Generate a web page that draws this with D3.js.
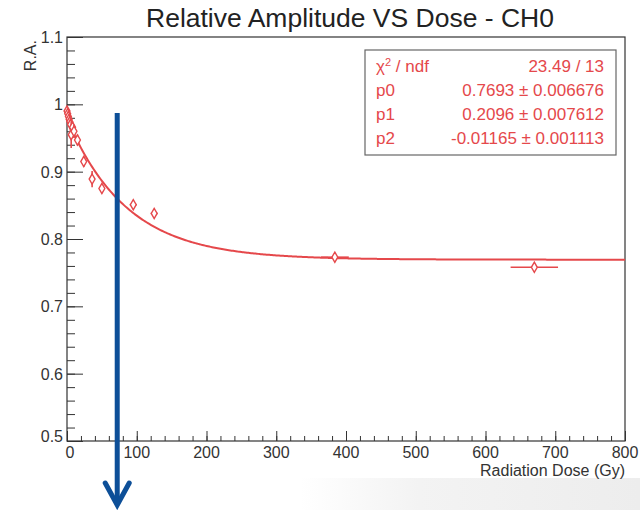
<!DOCTYPE html>
<html lang="en">
<head>
<meta charset="utf-8">
<title>Relative Amplitude VS Dose - CH0</title>
<script src="https://cdn.jsdelivr.net/npm/d3@7"></script>
<style>
  html, body { margin: 0; padding: 0; background: #fff; }
  svg { display: block; font-family: "Liberation Sans", Arial, sans-serif; }
</style>
</head>
<body>
<div id="chart"></div>
<script>
// measured points (dose in Gy, relative amplitude)
var dose    = [0, 1, 2, 3, 4, 5, 6, 8, 10, 15, 24, 36, 50, 95, 125, 384, 670];
var doseErr = [0, 0, 0, 0, 0, 0, 0, 0, 0, 2, 2, 2, 3, 5, 5, 20, 34];
var ra      = [0.99, 0.986, 0.982, 0.978, 0.974, 0.97, 0.955, 0.966, 0.96, 0.947, 0.915, 0.889, 0.875, 0.851, 0.838, 0.773, 0.758];
var raErr   = [0.006, 0.006, 0.008, 0.008, 0.01, 0.01, 0.02, 0.008, 0.01, 0.008, 0.008, 0.012, 0.007, 0.006, 0.005, 0.004, 0.004];

// fit p0 + p1*exp(p2*x)
var fitNames  = ["p0", "p1", "p2"];
var fitValues = [0.7693, 0.2096, -0.01165];
var fitErrors = [0.006676, 0.007612, 0.001113];
var chi2 = "23.49 / 13";

var xTicks = [0, 100, 200, 300, 400, 500, 600, 700, 800];
var yTicks = [0.5, 0.6, 0.7, 0.8, 0.9, 1, 1.1];

// arrow annotation (dose, top R.A.)
var arrowDose = 72, arrowTop = 0.987;

var W = 640, H = 510;
var margin = {top: 37, right: 15, bottom: 69, left: 67};
var width = W - margin.left - margin.right,
    height = H - margin.top - margin.bottom;

var red = "#e5484b", frame = "#333";

var svg = d3.select("#chart").append("svg")
    .attr("width", W).attr("height", H);

// faint grey band bottom right (slide background)
var grad = svg.append("defs").append("linearGradient")
    .attr("id", "fade").attr("x1", "0").attr("x2", "1");
grad.append("stop").attr("offset", "0").attr("stop-color", "#fff");
grad.append("stop").attr("offset", "0.35").attr("stop-color", "#f3f3f3");
grad.append("stop").attr("offset", "1").attr("stop-color", "#ededed");
svg.append("rect").attr("x", 300).attr("y", 478).attr("width", 340).attr("height", 32)
    .attr("fill", "url(#fade)");

svg.append("text")
    .attr("x", 350).attr("y", 27)
    .attr("text-anchor", "middle")
    .attr("font-size", 25).attr("fill", "#222")
    .attr("textLength", 408).attr("lengthAdjust", "spacingAndGlyphs")
    .text("Relative Amplitude VS Dose - CH0");

var g = svg.append("g")
    .attr("transform", "translate(" + margin.left + "," + margin.top + ")");

var x = d3.scaleLinear().domain([0, 800]).range([0, width]);
var y = d3.scaleLinear().domain([0.5, 1.1]).range([height, 0]);

// frame
g.append("rect").attr("width", width).attr("height", height)
    .attr("fill", "none").attr("stroke", frame).attr("stroke-width", 1.2);

// x ticks (inside, pointing up)
var xAxis = g.append("g").attr("transform", "translate(0," + height + ")");
xAxis.call(d3.axisTop(x).tickValues(d3.range(0, 801, 20)).tickSize(5).tickFormat(""))
  .call(function(s) { s.select(".domain").remove(); s.selectAll("line").attr("stroke", frame); });
xAxis.append("g").call(d3.axisTop(x).tickValues(xTicks).tickSize(10).tickFormat(""))
  .call(function(s) { s.select(".domain").remove(); s.selectAll("line").attr("stroke", frame); });
xAxis.selectAll(".xlab").data(xTicks).enter().append("text")
    .attr("class", "xlab")
    .attr("x", function(d) { return x(d) + (d === 0 ? 3 : 0); })
    .attr("y", 17)
    .attr("text-anchor", "middle")
    .attr("font-size", 16).attr("fill", "#333")
    .text(function(d) { return d; });

// y ticks (inside, pointing right)
var yAxis = g.append("g");
yAxis.call(d3.axisRight(y).tickValues(d3.range(0, 30).map(function(i) { return 0.5 + i * 0.02; })).tickSize(8).tickFormat(""))
  .call(function(s) { s.select(".domain").remove(); s.selectAll("line").attr("stroke", frame); });
yAxis.append("g").call(d3.axisRight(y).tickValues(yTicks).tickSize(16).tickFormat(""))
  .call(function(s) { s.select(".domain").remove(); s.selectAll("line").attr("stroke", frame); });
yAxis.selectAll(".ylab").data(yTicks).enter().append("text")
    .attr("class", "ylab")
    .attr("x", -4)
    .attr("y", function(d) { return y(d) + (d === 0.5 ? 1 : 6); })
    .attr("text-anchor", "end")
    .attr("font-size", 16).attr("fill", "#333")
    .text(function(d) { return d; });

svg.append("text")
    .attr("transform", "translate(36," + (margin.top + 3) + ") rotate(-90)")
    .attr("text-anchor", "end")
    .attr("font-size", 16).attr("fill", "#333")
    .text("R.A.");

svg.append("text")
    .attr("x", margin.left + width).attr("y", margin.top + height + 35)
    .attr("text-anchor", "end")
    .attr("font-size", 16).attr("fill", "#333")
    .text("Radiation Dose (Gy)");

// fit curve
var curveX = d3.range(0, 800.1, 2);
var line = d3.line()
    .x(function(d) { return x(d); })
    .y(function(d) { return y(fitValues[0] + fitValues[1] * Math.exp(fitValues[2] * d)); })
    .curve(d3.curveMonotoneX);
g.append("path").datum(curveX)
    .attr("d", line)
    .attr("fill", "none").attr("stroke", red).attr("stroke-width", 2);

// data points with error bars
var pts = g.selectAll(".pt").data(dose).enter().append("g").attr("class", "pt");
pts.append("line")
    .attr("x1", function(d) { return x(d); }).attr("x2", function(d) { return x(d); })
    .attr("y1", function(d, i) { return y(ra[i] + raErr[i]); })
    .attr("y2", function(d, i) { return y(ra[i] - raErr[i]); })
    .attr("stroke", red).attr("stroke-width", 1.6);
pts.append("line")
    .attr("x1", function(d, i) { return x(d - doseErr[i]); })
    .attr("x2", function(d, i) { return x(d + doseErr[i]); })
    .attr("y1", function(d, i) { return y(ra[i]); })
    .attr("y2", function(d, i) { return y(ra[i]); })
    .attr("stroke", red).attr("stroke-width", 1.6);
pts.append("path")
    .attr("transform", function(d, i) { return "translate(" + x(d) + "," + y(ra[i]) + ")"; })
    .attr("d", d3.symbol(d3.symbolDiamond, 30))
    .attr("fill", "#fff").attr("stroke", red).attr("stroke-width", 1.4);

// stats box
var box = svg.append("g").attr("transform", "translate(365,50)");
box.append("rect").attr("width", 251).attr("height", 105)
    .attr("fill", "#fff").attr("stroke", "#666").attr("stroke-width", 1.2);
var rows = [{name: "\u03c7", sup: "2", rest: " / ndf", val: chi2}].concat(
  fitNames.map(function(n, i) {
    return {name: n, val: fitValues[i] + " \u00b1 " + fitErrors[i]};
  }));
rows.forEach(function(r, i) {
  var t = box.append("text")
      .attr("x", 11).attr("y", 22 + i * 24)
      .attr("font-size", 17).attr("fill", red);
  t.append("tspan").text(r.name);
  if (r.sup) {
    t.append("tspan").attr("dy", -6).attr("font-size", 11).text(r.sup);
    t.append("tspan").attr("dy", 6).text(r.rest);
  }
  box.append("text")
      .attr("x", 239).attr("y", 22 + i * 24)
      .attr("text-anchor", "end")
      .attr("font-size", 17).attr("fill", red)
      .text(r.val);
});

// blue arrow annotation
var ax = margin.left + x(arrowDose), ay = margin.top + y(arrowTop), ab = 505;
svg.append("line").attr("x1", ax).attr("x2", ax).attr("y1", ay).attr("y2", ab - 2)
    .attr("stroke", "#0d4f98").attr("stroke-width", 5);
svg.append("path")
    .attr("d", "M" + (ax - 12) + "," + (ab - 22) + "L" + ax + "," + ab + "L" + (ax + 12) + "," + (ab - 22))
    .attr("fill", "none").attr("stroke", "#0d4f98").attr("stroke-width", 5)
    .attr("stroke-linejoin", "miter").attr("stroke-linecap", "round");
</script>
</body>
</html>
